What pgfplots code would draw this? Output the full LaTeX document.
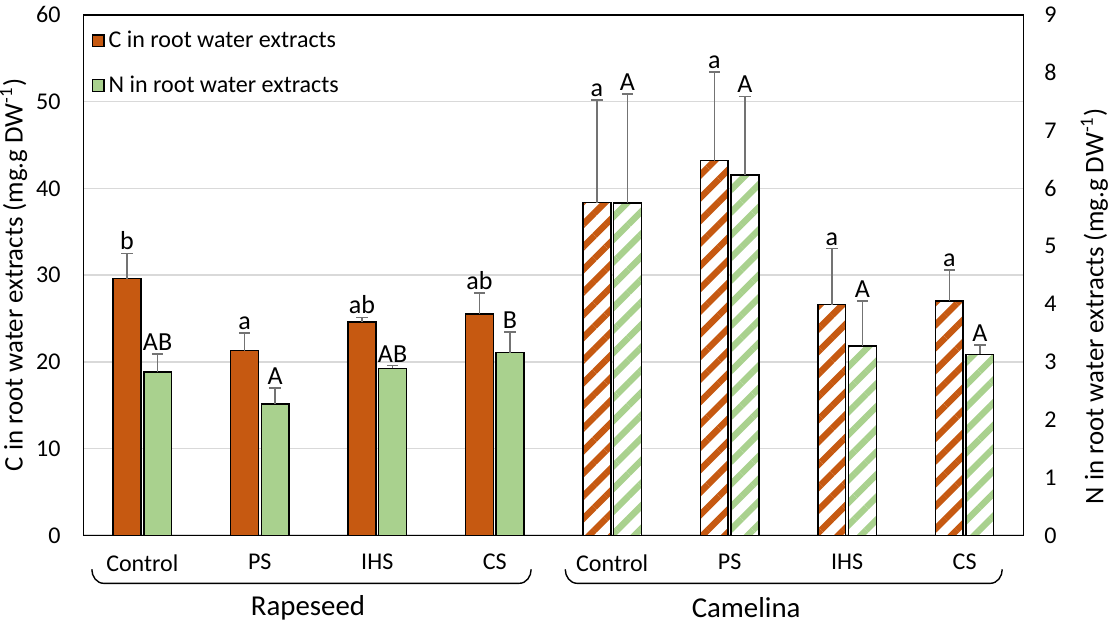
\documentclass[border=0pt]{standalone}
\usepackage{pgfplots}
\pgfplotsset{compat=1.18}
\usepackage{pgfplotstable}
\usepackage{fontspec}
\setmainfont{Carlito}
\usetikzlibrary{patterns.meta}

\definecolor{corange}{HTML}{C65911}
\definecolor{ngreen}{HTML}{A9D18E}
\definecolor{errgray}{HTML}{737373}
\definecolor{gridgray}{HTML}{D9D9D9}

% C (left axis, mg.g DW-1)
\pgfplotstableread{
x y err lab
0 29.6 2.9 b
1 21.3 2.0 a
2 24.6 0.5 ab
3 25.5 2.4 ab
}\cRape
\pgfplotstableread{
x y err lab
4 38.35 11.8 a
5 43.2 10.2 a
6 26.6 6.45 a
7 27.0 3.6 a
}\cCame
% N (right axis, mg.g DW-1)
\pgfplotstableread{
x y err lab
0 2.82 0.31 AB
1 2.27 0.28 A
2 2.885 0.05 AB
3 3.16 0.36 B
}\nRape
\pgfplotstableread{
x y err lab
4 5.75 1.88 A
5 6.23 1.36 A
6 3.27 0.78 A
7 3.13 0.16 A
}\nCame

% half the distance between the two bars of a pair, in x units
\def\off{0.13}

\pgfplotsset{
  base/.style={width=469.5pt, height=260pt, scale only axis,
    xmin=-0.5, xmax=7.5, ymin=0, clip=false, major tick length=0pt,
    /pgf/number format/assume math mode=true,
    tick label style={font=\fontsize{12}{14}\selectfont},
    axis line style={line width=0.7pt}},
  bars/.style={ybar, bar width=13.8pt, bar shift=0pt, draw=black, line width=0.75pt,
    error bars/y dir=plus, error bars/y explicit,
    error bars/error bar style={errgray, line width=0.8pt},
    error bars/error mark options={rotate=90, errgray, mark size=2.8pt, line width=0.8pt}},
  letters/.style={draw=none, mark=none, forget plot, nodes near coords,
    point meta=explicit symbolic,
    nodes near coords style={text=black, font=\fontsize{13}{15}\selectfont, anchor=south, inner sep=1.5pt}},
  hatch/.style={fill=white, postaction={pattern={Lines[angle=45,distance=8pt,line width=3.2pt]}, pattern color=#1}},
}

\begin{document}
\begin{tikzpicture}
\begin{axis}[base,
  ymax=60, ytick={0,10,...,60},
  xtick={0,...,7}, xticklabels={Control,PS,IHS,CS,Control,PS,IHS,CS},
  xticklabel style={yshift=-6pt},
  yticklabel style={xshift=-8pt},
  ymajorgrids, grid style={gridgray, line width=0.8pt},
  ylabel={C in root water extracts (mg.g DW\textsuperscript{-1})},
  ylabel style={font=\fontsize{13.4}{15}\selectfont, at={(axis description cs:-0.0745,0.5)},
    anchor=center, inner sep=0pt},
  legend image code/.code={\draw[#1, line width=0.6pt] (0pt,-2.9pt) rectangle (5.8pt,2.9pt);},
  legend style={draw=none, fill=none, at={(0.002,0.985)}, anchor=north west,
    font=\fontsize{12}{14}\selectfont, row sep=8.5pt,
    /tikz/every even column/.append style={column sep=1pt}},
  legend cell align=left]
\addlegendimage{fill=corange, draw=black}
\addlegendentry{C in root water extracts}
\addlegendimage{fill=ngreen, draw=black}
\addlegendentry{N in root water extracts}

\addplot[bars, fill=corange, forget plot] table[x expr=\thisrow{x}-\off, y=y, y error=err] {\cRape};
\addplot[bars, hatch=corange, forget plot] table[x expr=\thisrow{x}-\off, y=y, y error=err] {\cCame};
\addplot[letters] table[x expr=\thisrow{x}-\off, y expr=\thisrow{y}+\thisrow{err}, meta=lab] {\cRape};
\addplot[letters] table[x expr=\thisrow{x}-\off, y expr=\thisrow{y}+\thisrow{err}, meta=lab] {\cCame};

\draw[line width=0.7pt] ([yshift=-17pt]axis cs:-0.43,0) to[out=-90,in=180] ([xshift=6pt,yshift=-24pt]axis cs:-0.43,0)
  -- ([xshift=-6pt,yshift=-24pt]axis cs:3.31,0) to[out=0,in=-90] ([yshift=-17pt]axis cs:3.31,0);
\draw[line width=0.7pt] ([yshift=-17pt]axis cs:3.60,0) to[out=-90,in=180] ([xshift=6pt,yshift=-24pt]axis cs:3.60,0)
  -- ([xshift=-6pt,yshift=-24pt]axis cs:7.32,0) to[out=0,in=-90] ([yshift=-17pt]axis cs:7.32,0);
\node[font=\fontsize{14.4}{16}\selectfont] at ([yshift=-36pt]axis cs:1.41,0) {Rapeseed};
\node[font=\fontsize{14.4}{16}\selectfont] at ([yshift=-36pt]axis cs:5.14,0) {Camelina};
\end{axis}

\begin{axis}[base,
  ymax=9, ytick={0,...,9},
  axis x line=none, axis y line*=right,
  yticklabel style={xshift=7pt},
  ylabel={N in root water extracts (mg.g DW\textsuperscript{-1})},
  ylabel style={font=\fontsize{13.4}{15}\selectfont, at={(axis description cs:1.0756,0.44)},
    anchor=center, inner sep=0pt}]
\addplot[bars, fill=ngreen] table[x expr=\thisrow{x}+\off, y=y, y error=err] {\nRape};
\addplot[bars, hatch=ngreen] table[x expr=\thisrow{x}+\off, y=y, y error=err] {\nCame};
\addplot[letters] table[x expr=\thisrow{x}+\off, y expr=\thisrow{y}+\thisrow{err}, meta=lab] {\nRape};
\addplot[letters] table[x expr=\thisrow{x}+\off, y expr=\thisrow{y}+\thisrow{err}, meta=lab] {\nCame};
\end{axis}
\end{tikzpicture}
\end{document}
